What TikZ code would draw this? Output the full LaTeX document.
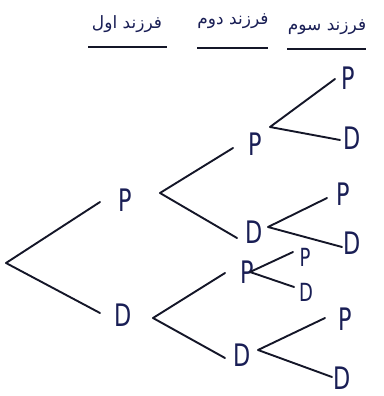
\documentclass[tikz,border=0pt]{standalone}
\usepackage{graphicx}
\usepackage{fontspec}
\newfontfamily\arabicfont[Script=Arabic]{DejaVu Sans}
\newfontfamily\letterfont{DejaVu Sans}
\newcommand{\narrowltr}[1]{\scalebox{0.72}[1]{#1}}
\TeXXeTstate=1
\definecolor{ink}{RGB}{20,22,40}
\definecolor{penblue}{RGB}{25,30,85}
\begin{document}
\begin{tikzpicture}[x=1pt,y=-1pt,
  br/.style={draw=ink,line width=1.9pt,line cap=round,line join=round},
  lbl/.style={text=penblue,font=\letterfont\fontsize{31}{31}\selectfont,inner sep=0pt},
  slbl/.style={text=penblue,font=\letterfont\fontsize{25}{25}\selectfont,inner sep=0pt},
  hdr/.style={text=penblue,font=\arabicfont\fontsize{17}{17}\selectfont,inner sep=0pt},
  uline/.style={draw=ink,line width=1.9pt}]
\useasboundingbox (0,0) rectangle (383,396);
% headers
\node[hdr] (h1) at (127,24) {\beginR فرزند اول\endR};
\node[hdr] (h2) at (233,21) {\beginR فرزند دوم\endR};
\node[hdr] (h3) at (327,27) {\beginR فرزند سوم\endR};
\coordinate (u1a) at (88,47); \coordinate (u1b) at (167,47);
\coordinate (u2a) at (197,48); \coordinate (u2b) at (268,48);
\coordinate (u3a) at (287,49); \coordinate (u3b) at (366,49);
\draw[uline] (u1a) -- (u1b);
\draw[uline] (u2a) -- (u2b);
\draw[uline] (u3a) -- (u3b);
% labels
\node[lbl] (P1) at (125,200) {\narrowltr{P}};
\node[lbl] (D1) at (123,315) {\narrowltr{D}};
\node[lbl] (PP) at (255,144) {\narrowltr{P}};
\node[lbl] (PD) at (254,232) {\narrowltr{D}};
\node[lbl] (DP) at (247,272) {\narrowltr{P}};
\node[lbl] (DD) at (242,355) {\narrowltr{D}};
\node[lbl] (PPP) at (348,78) {\narrowltr{P}};
\node[lbl] (PPD) at (352,138) {\narrowltr{D}};
\node[lbl] (PDP) at (343,194) {\narrowltr{P}};
\node[lbl] (PDD) at (352,243) {\narrowltr{D}};
\node[slbl] (DPP) at (305,257) {\narrowltr{P}};
\node[slbl] (DPD) at (306,292) {\narrowltr{D}};
\node[lbl] (DDP) at (345,319) {\narrowltr{P}};
\node[lbl] (DDD) at (342,378) {\narrowltr{D}};
% junctions and ends
\coordinate (j0) at (6,263);
\coordinate (e1) at (100,202); \coordinate (e2) at (100,313);
\coordinate (j1) at (160,193);
\coordinate (e11) at (233,148); \coordinate (e12) at (237,238);
\coordinate (j2) at (153,318);
\coordinate (e21) at (225,273); \coordinate (e22) at (225,358);
\coordinate (j11) at (270,127);
\coordinate (e111) at (335,79); \coordinate (e112) at (340,140);
\coordinate (j12) at (268,227);
\coordinate (e121) at (327,198); \coordinate (e122) at (342,247);
\coordinate (j21) at (250,272);
\coordinate (e211) at (293,252); \coordinate (e212) at (294,287);
\coordinate (j22) at (258,350);
\coordinate (e221) at (325,318); \coordinate (e222) at (332,377);
% branches
\draw[br] (e1) -- (j0) -- (e2);
\draw[br] (e11) -- (j1) -- (e12);
\draw[br] (e21) -- (j2) -- (e22);
\draw[br] (e111) -- (j11) -- (e112);
\draw[br] (e121) -- (j12) -- (e122);
\draw[br] (e211) -- (j21) -- (e212);
\draw[br] (e221) -- (j22) -- (e222);
\end{tikzpicture}
\end{document}
